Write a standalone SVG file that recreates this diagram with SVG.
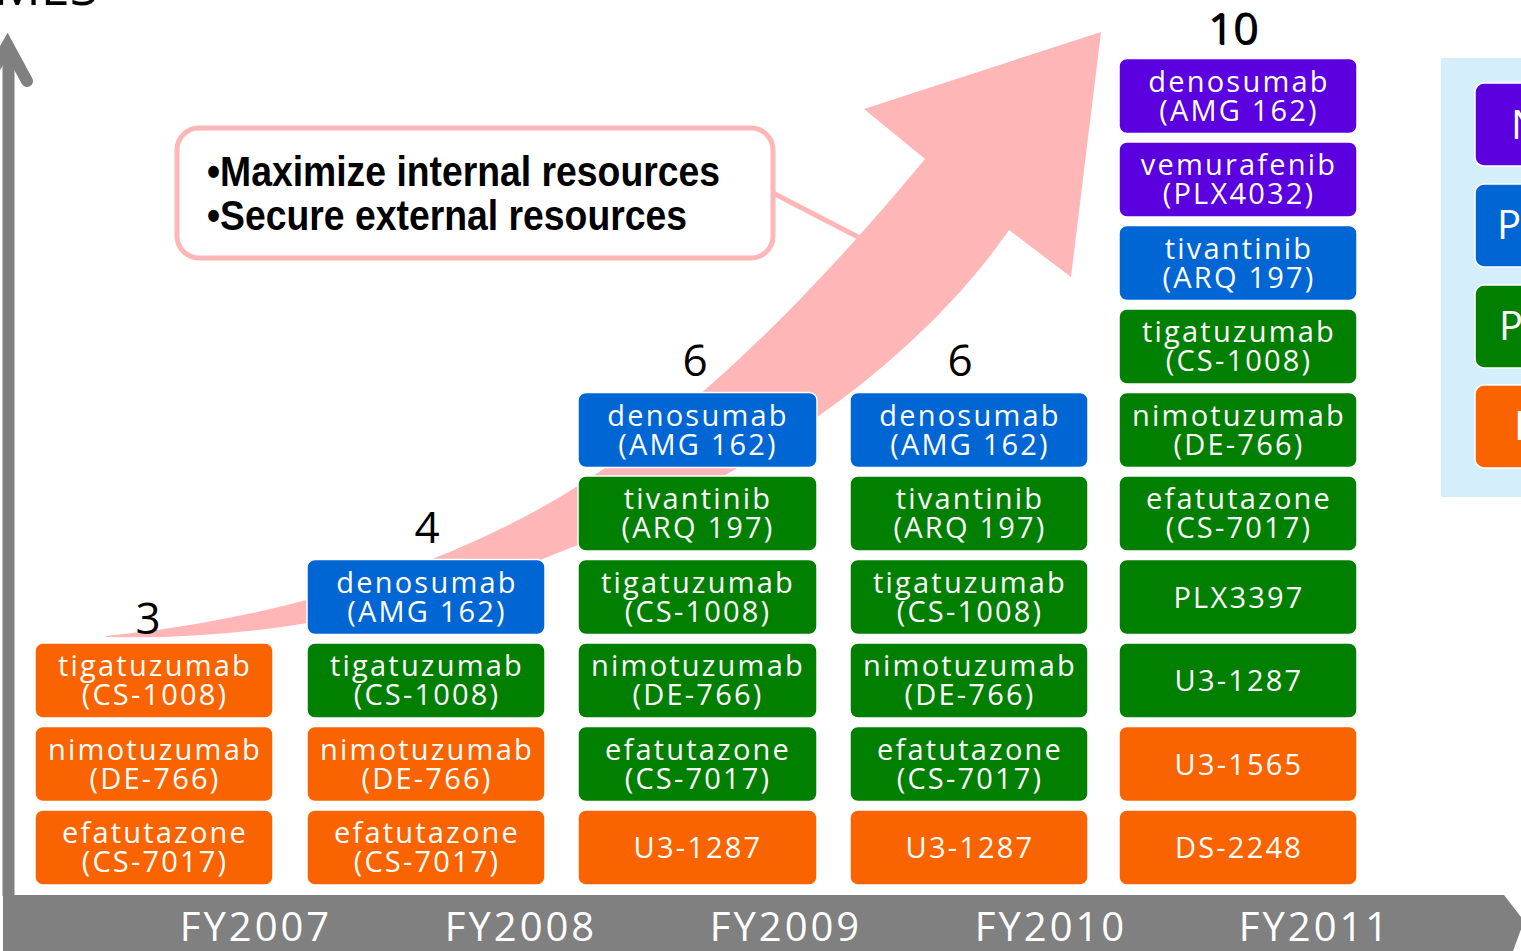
<svg xmlns="http://www.w3.org/2000/svg" width="1521" height="951" viewBox="0 0 1521 951">
  <defs>
    <style>
      .bx { stroke: #ffffff; stroke-width: 1.5; }
      .or { fill: #FA6400; }
      .gr { fill: #007F00; }
      .bl { fill: #0066D4; }
      .pu { fill: #5B00DF; }
      .lbl { font-family: "Open Sans", "DejaVu Sans", sans-serif; font-size: 29px; letter-spacing: 2.2px; fill: #ffffff; text-anchor: middle; }
      .cnt { font-family: "Open Sans", "DejaVu Sans", sans-serif; font-size: 44px; fill: #000000; text-anchor: middle; }
      .fy { font-family: "Open Sans", "DejaVu Sans", sans-serif; font-size: 40px; letter-spacing: 3px; fill: #ffffff; text-anchor: middle; }
      .call { font-family: "Liberation Sans", Arial, sans-serif; font-weight: bold; font-size: 42px; fill: #000000; }
      .leg { font-family: "Open Sans", "DejaVu Sans", sans-serif; font-size: 40px; fill: #ffffff; }
      .axis { stroke: #808080; fill: none; }
    </style>
  </defs>

  <rect width="1521" height="951" fill="#ffffff"/>

  <!-- axis title, cut by the top edge -->
  <text x="-6" y="5" font-family="Open Sans, DejaVu Sans, sans-serif" font-size="52" fill="#000">MES</text>

  <!-- growth arrow -->
  <g id="growth-arrow">
    <path d="M106,636 C250,622 420,580 560,497 C680,425 800,310 925,159 L864,109 L1101,32 L1071,277 L1009,230 C940,330 800,460 560,552 C420,610 260,641 106,637 Z" fill="#FFB6B6"/>
  </g>

  <!-- callout link -->
  <g id="connectors">
    <line x1="773" y1="193" x2="860" y2="238" stroke="#FFB6B6" stroke-width="5"/>
  </g>
  <g id="callout">
    <rect x="177" y="128" width="596" height="130" rx="22" ry="22" fill="#ffffff" stroke="#FFB6B6" stroke-width="5"/>
    <text class="call" x="207" y="186" textLength="513" lengthAdjust="spacingAndGlyphs">•Maximize internal resources</text>
    <text class="call" x="207" y="230" textLength="480" lengthAdjust="spacingAndGlyphs">•Secure external resources</text>
  </g>

  <!-- axes -->
  <g id="axes">
    <line class="axis" x1="8.5" y1="50" x2="8.5" y2="896" stroke-width="12"/>
    <polyline class="axis" points="-13,81 7.5,45 27,81" stroke-width="12" stroke-linecap="round" stroke-linejoin="miter"/>
    <polygon points="3,895 1504,895 1524,921 1513,951 3,951" fill="#808080"/>
    <text class="fy" x="256" y="941">FY2007</text>
    <text class="fy" x="521" y="941">FY2008</text>
    <text class="fy" x="786" y="941">FY2009</text>
    <text class="fy" x="1051" y="941">FY2010</text>
    <text class="fy" x="1315" y="941">FY2011</text>
  </g>

  <!-- totals per year -->
  <g id="totals">
    <text class="cnt" x="148" y="634">3</text>
    <text class="cnt" x="427" y="543">4</text>
    <text class="cnt" x="695" y="376">6</text>
    <text class="cnt" x="960" y="376">6</text>
    <text class="cnt" x="1234" y="45" font-size="46" fill="#c9d2dc">10</text>
    <text class="cnt" x="1233" y="44" font-size="46" fill="#2A5584">10</text>
  </g>

  <!-- FY2007 -->
  <g id="fy2007-efatutazone"><rect class="bx or" x="35" y="810" width="238" height="75" rx="8"/><text class="lbl" x="155" y="843">efatutazone</text><text class="lbl" x="155" y="872">(CS-7017)</text></g>
  <g id="fy2007-nimotuzumab"><rect class="bx or" x="35" y="726.5" width="238" height="75" rx="8"/><text class="lbl" x="155" y="759.5">nimotuzumab</text><text class="lbl" x="155" y="788.5">(DE-766)</text></g>
  <g id="fy2007-tigatuzumab"><rect class="bx or" x="35" y="643" width="238" height="75" rx="8"/><text class="lbl" x="155" y="676">tigatuzumab</text><text class="lbl" x="155" y="705">(CS-1008)</text></g>

  <!-- FY2008 -->
  <g id="fy2008-efatutazone"><rect class="bx or" x="307" y="810" width="238" height="75" rx="8"/><text class="lbl" x="427" y="843">efatutazone</text><text class="lbl" x="427" y="872">(CS-7017)</text></g>
  <g id="fy2008-nimotuzumab"><rect class="bx or" x="307" y="726.5" width="238" height="75" rx="8"/><text class="lbl" x="427" y="759.5">nimotuzumab</text><text class="lbl" x="427" y="788.5">(DE-766)</text></g>
  <g id="fy2008-tigatuzumab"><rect class="bx gr" x="307" y="643" width="238" height="75" rx="8"/><text class="lbl" x="427" y="676">tigatuzumab</text><text class="lbl" x="427" y="705">(CS-1008)</text></g>
  <g id="fy2008-denosumab"><rect class="bx bl" x="307" y="559.5" width="238" height="75" rx="8"/><text class="lbl" x="427" y="592.5">denosumab</text><text class="lbl" x="427" y="621.5">(AMG 162)</text></g>

  <!-- FY2009 -->
  <g id="fy2009-u3-1287"><rect class="bx or" x="578" y="810" width="239" height="75" rx="8"/><text class="lbl" x="698" y="858">U3-1287</text></g>
  <g id="fy2009-efatutazone"><rect class="bx gr" x="578" y="726.5" width="239" height="75" rx="8"/><text class="lbl" x="698" y="759.5">efatutazone</text><text class="lbl" x="698" y="788.5">(CS-7017)</text></g>
  <g id="fy2009-nimotuzumab"><rect class="bx gr" x="578" y="643" width="239" height="75" rx="8"/><text class="lbl" x="698" y="676">nimotuzumab</text><text class="lbl" x="698" y="705">(DE-766)</text></g>
  <g id="fy2009-tigatuzumab"><rect class="bx gr" x="578" y="559.5" width="239" height="75" rx="8"/><text class="lbl" x="698" y="592.5">tigatuzumab</text><text class="lbl" x="698" y="621.5">(CS-1008)</text></g>
  <g id="fy2009-tivantinib"><rect class="bx gr" x="578" y="476" width="239" height="75" rx="8"/><text class="lbl" x="698" y="509">tivantinib</text><text class="lbl" x="698" y="538">(ARQ 197)</text></g>
  <g id="fy2009-denosumab"><rect class="bx bl" x="578" y="392.5" width="239" height="75" rx="8"/><text class="lbl" x="698" y="425.5">denosumab</text><text class="lbl" x="698" y="454.5">(AMG 162)</text></g>

  <!-- FY2010 -->
  <g id="fy2010-u3-1287"><rect class="bx or" x="850" y="810" width="238" height="75" rx="8"/><text class="lbl" x="970" y="858">U3-1287</text></g>
  <g id="fy2010-efatutazone"><rect class="bx gr" x="850" y="726.5" width="238" height="75" rx="8"/><text class="lbl" x="970" y="759.5">efatutazone</text><text class="lbl" x="970" y="788.5">(CS-7017)</text></g>
  <g id="fy2010-nimotuzumab"><rect class="bx gr" x="850" y="643" width="238" height="75" rx="8"/><text class="lbl" x="970" y="676">nimotuzumab</text><text class="lbl" x="970" y="705">(DE-766)</text></g>
  <g id="fy2010-tigatuzumab"><rect class="bx gr" x="850" y="559.5" width="238" height="75" rx="8"/><text class="lbl" x="970" y="592.5">tigatuzumab</text><text class="lbl" x="970" y="621.5">(CS-1008)</text></g>
  <g id="fy2010-tivantinib"><rect class="bx gr" x="850" y="476" width="238" height="75" rx="8"/><text class="lbl" x="970" y="509">tivantinib</text><text class="lbl" x="970" y="538">(ARQ 197)</text></g>
  <g id="fy2010-denosumab"><rect class="bx bl" x="850" y="392.5" width="238" height="75" rx="8"/><text class="lbl" x="970" y="425.5">denosumab</text><text class="lbl" x="970" y="454.5">(AMG 162)</text></g>

  <!-- FY2011 -->
  <g id="fy2011-ds-2248"><rect class="bx or" x="1119" y="810" width="238" height="75" rx="8"/><text class="lbl" x="1239" y="858">DS-2248</text></g>
  <g id="fy2011-u3-1565"><rect class="bx or" x="1119" y="726.5" width="238" height="75" rx="8"/><text class="lbl" x="1239" y="774.5">U3-1565</text></g>
  <g id="fy2011-u3-1287"><rect class="bx gr" x="1119" y="643" width="238" height="75" rx="8"/><text class="lbl" x="1239" y="691">U3-1287</text></g>
  <g id="fy2011-plx3397"><rect class="bx gr" x="1119" y="559.5" width="238" height="75" rx="8"/><text class="lbl" x="1239" y="607.5">PLX3397</text></g>
  <g id="fy2011-efatutazone"><rect class="bx gr" x="1119" y="476" width="238" height="75" rx="8"/><text class="lbl" x="1239" y="509">efatutazone</text><text class="lbl" x="1239" y="538">(CS-7017)</text></g>
  <g id="fy2011-nimotuzumab"><rect class="bx gr" x="1119" y="392.5" width="238" height="75" rx="8"/><text class="lbl" x="1239" y="425.5">nimotuzumab</text><text class="lbl" x="1239" y="454.5">(DE-766)</text></g>
  <g id="fy2011-tigatuzumab"><rect class="bx gr" x="1119" y="309" width="238" height="75" rx="8"/><text class="lbl" x="1239" y="342">tigatuzumab</text><text class="lbl" x="1239" y="371">(CS-1008)</text></g>
  <g id="fy2011-tivantinib"><rect class="bx bl" x="1119" y="225.5" width="238" height="75" rx="8"/><text class="lbl" x="1239" y="258.5">tivantinib</text><text class="lbl" x="1239" y="287.5">(ARQ 197)</text></g>
  <g id="fy2011-vemurafenib"><rect class="bx pu" x="1119" y="142" width="238" height="75" rx="8"/><text class="lbl" x="1239" y="175">vemurafenib</text><text class="lbl" x="1239" y="204">(PLX4032)</text></g>
  <g id="fy2011-denosumab"><rect class="bx pu" x="1119" y="58.5" width="238" height="75" rx="8"/><text class="lbl" x="1239" y="91.5">denosumab</text><text class="lbl" x="1239" y="120.5">(AMG 162)</text></g>

  <!-- legend panel (runs past the right edge) -->
  <g id="legend">
    <rect x="1441" y="58" width="120" height="439" fill="#D5EEFB"/>
    <g id="legend-purple"><rect class="bx pu" x="1475" y="83" width="120" height="83" rx="9"/><text class="leg" x="1511" y="139">N</text></g>
    <g id="legend-blue"><rect class="bx bl" x="1475" y="184" width="120" height="83" rx="9"/><text class="leg" x="1497" y="239">P</text></g>
    <g id="legend-green"><rect class="bx gr" x="1475" y="285" width="120" height="83" rx="9"/><text class="leg" x="1499" y="340">P</text></g>
    <g id="legend-orange"><rect class="bx or" x="1475" y="385" width="120" height="83" rx="9"/><text class="leg" x="1514" y="440">I</text></g>
  </g>
</svg>
